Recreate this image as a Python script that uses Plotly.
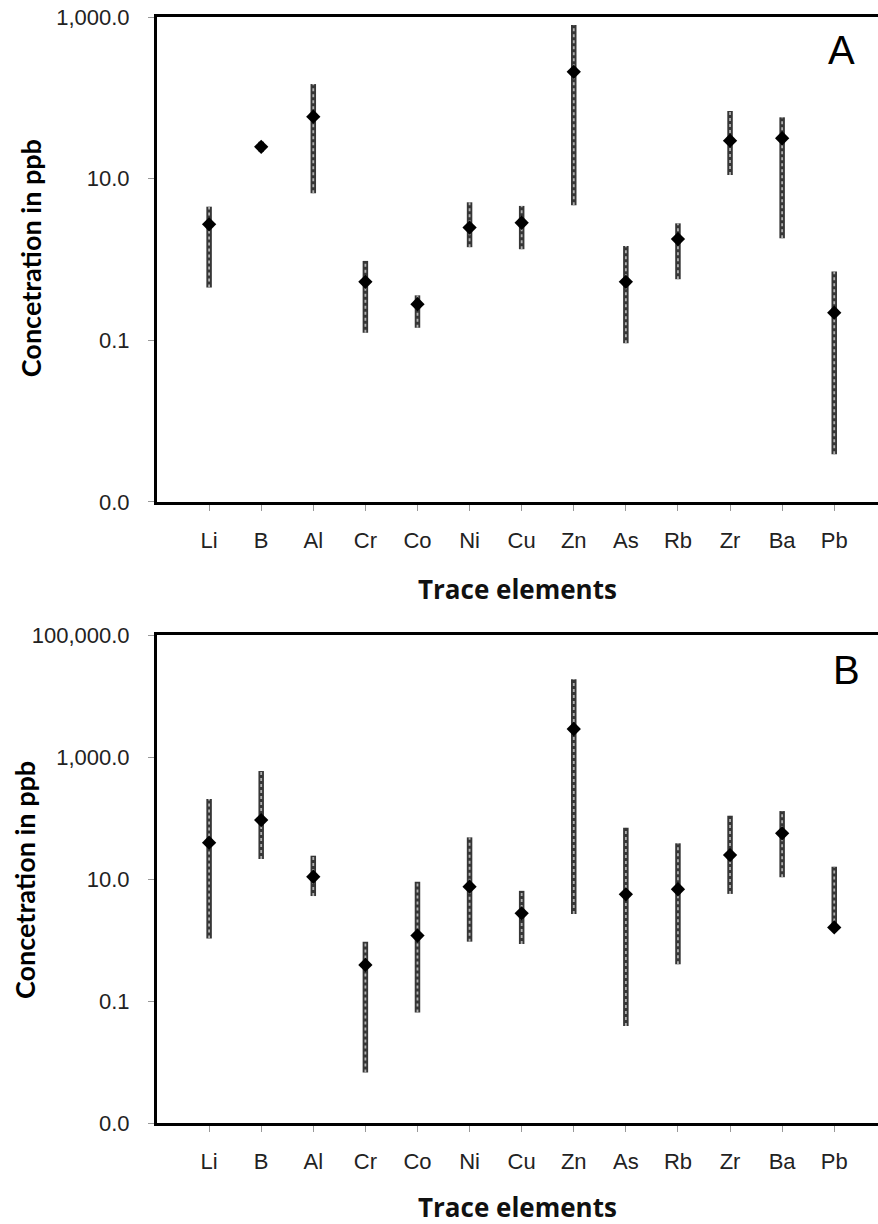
import plotly.graph_objects as go

# Trace-element concentrations (ppb): central value with min/max range
elements = ["Li", "B", "Al", "Cr", "Co", "Ni", "Cu", "Zn", "As", "Rb", "Zr", "Ba", "Pb"]

a_mean = [2.72, 24.8, 58.4, 0.53, 0.28, 2.48, 2.85, 210, 0.53, 1.79, 29.5, 31.6, 0.22]
a_min = [0.45, 21.6, 6.6, 0.124, 0.143, 1.42, 1.34, 4.7, 0.092, 0.57, 11.1, 1.83, 0.0039]
a_max = [4.5, 28.6, 148, 0.96, 0.36, 5.1, 4.6, 796, 1.47, 2.8, 68.7, 57.4, 0.71]

b_mean = [39.4, 92.7, 10.9, 0.39, 1.18, 7.5, 2.74, 2880, 5.6, 6.8, 24.7, 56.1, 1.61]
b_min = [1.06, 21.3, 5.26, 0.0067, 0.065, 0.94, 0.86, 2.67, 0.039, 0.40, 5.7, 10.7, 1.61]
b_max = [205, 589, 24.1, 0.94, 9.0, 48.2, 6.4, 18750, 69.5, 38.5, 109, 130, 15.9]

a_ticks = [1000, 10, 0.1, 0.001]
a_ticktext = ["1,000.0", "10.0", "0.1", "0.0"]
b_ticks = [100000, 1000, 10, 0.1, 0.001]
b_ticktext = ["100,000.0", "1,000.0", "10.0", "0.1", "0.0"]

TICK_FONT = dict(family="Liberation Sans, Arial, sans-serif", size=22, color="#222")


def range_segments(cats, lo, hi):
    xs, ys = [], []
    for c, l, h in zip(cats, lo, hi):
        xs += [c, c, None]
        ys += [l, h, None]
    return xs, ys


fig = go.Figure()

for xa, ya, mean, lo, hi in [("x", "y", a_mean, a_min, a_max),
                             ("x2", "y2", b_mean, b_min, b_max)]:
    sx, sy = range_segments(elements, lo, hi)
    # hatched range bar: dark outer stroke with a light dotted core
    fig.add_trace(go.Scatter(x=sx, y=sy, mode="lines", xaxis=xa, yaxis=ya,
                             line=dict(color="#363636", width=5.5),
                             hoverinfo="skip", showlegend=False))
    fig.add_trace(go.Scatter(x=sx, y=sy, mode="lines", xaxis=xa, yaxis=ya,
                             line=dict(color="#b0b0b0", width=1.8, dash="dot"),
                             hoverinfo="skip", showlegend=False))
    fig.add_trace(go.Scatter(x=elements, y=mean, mode="markers", xaxis=xa, yaxis=ya,
                             marker=dict(symbol="diamond", size=11, color="black"),
                             showlegend=False))

xcommon = dict(type="category", categoryorder="array", categoryarray=elements,
               range=[-1, 12.84], showline=True, linecolor="black", linewidth=3,
               mirror=True, ticks="outside", ticklen=6, tickcolor="#999",
               tickwidth=1, tickfont=TICK_FONT, showgrid=False, zeroline=False,
               ticklabelstandoff=11)
ycommon = dict(type="log", showline=True, linecolor="black", linewidth=3,
               ticks="outside", ticklen=6, tickcolor="#999", tickwidth=1,
               tickfont=TICK_FONT, showgrid=False, zeroline=False,
               ticklabelstandoff=14)

fig.update_layout(
    width=878, height=1224,
    margin=dict(l=157, r=0, t=17, b=101),
    paper_bgcolor="white", plot_bgcolor="white",
    xaxis=dict(xcommon, anchor="y"),
    yaxis=dict(ycommon, domain=[0.5615, 1.0], range=[-3, 3],
               tickvals=a_ticks, ticktext=a_ticktext, anchor="x"),
    xaxis2=dict(xcommon, anchor="y2"),
    yaxis2=dict(ycommon, domain=[0.0, 0.4412], range=[-3, 5],
                tickvals=b_ticks, ticktext=b_ticktext, anchor="x2"),
)

YT_FONT = dict(family="Lato, Open Sans, sans-serif", size=27, color="black", weight="bold")
XT_FONT = dict(family="Open Sans, DejaVu Sans, sans-serif", size=26, color="#111", weight="bold")
PANEL_FONT = dict(family="Liberation Sans, Arial, sans-serif", size=40, color="black")

annotations = [
    dict(text="Concetration in ppb", x=-0.176, y=0.782, textangle=-90, font=YT_FONT),
    dict(text="Concetration in ppb", x=-0.184, y=0.220, textangle=-90, font=YT_FONT),
    dict(text="Trace elements", x=0.5, y=0.4828, font=XT_FONT),
    dict(text="Trace elements", x=0.5, y=-0.076, font=XT_FONT),
    dict(text="A", x=0.950, y=0.970, font=PANEL_FONT),
    dict(text="B", x=0.957, y=0.4096, font=PANEL_FONT),
]
for a in annotations:
    a.update(xref="paper", yref="paper", showarrow=False,
             xanchor="center", yanchor="middle")
fig.update_layout(annotations=annotations)

fig.write_html("out.html")
